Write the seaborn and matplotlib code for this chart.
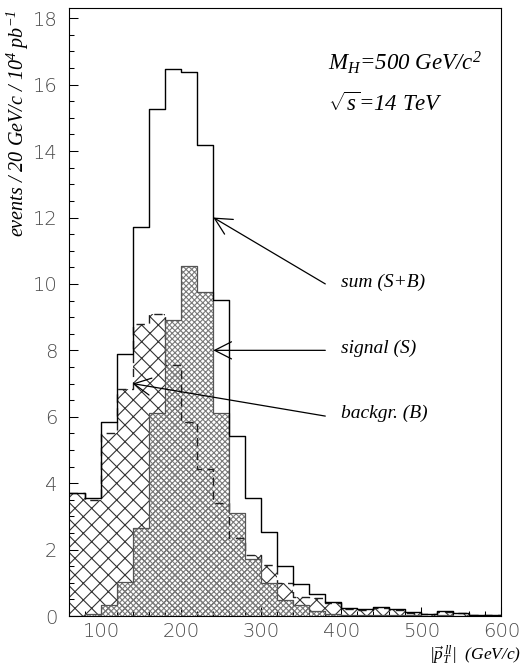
import matplotlib
matplotlib.use("Agg")
import numpy as np
import pandas as pd
import seaborn as sns
import matplotlib.pyplot as plt
from matplotlib.ticker import MultipleLocator

# ---------------- data ----------------
bin_edges = [60, 80, 100, 120, 140, 160, 180, 200, 220, 240, 260, 280, 300,
             320, 340, 360, 380, 400, 420, 440, 460, 480, 500, 520, 540, 560,
             580, 600]
sum_sb = [3.69, 3.54, 5.83, 7.89, 11.72, 15.26, 16.47, 16.39, 14.18, 9.53,
          5.43, 3.54, 2.54, 1.51, 0.95, 0.66, 0.43, 0.25, 0.20, 0.28, 0.20,
          0.11, 0.05, 0.15, 0.10, 0.03, 0.03]
signal_s = [0.00, 0.05, 0.33, 1.03, 2.64, 6.12, 8.91, 10.54, 9.76, 6.10,
            3.09, 1.72, 0.98, 0.48, 0.33, 0.15, 0.05, 0.03, 0.02, 0.03, 0.02,
            0.02, 0.00, 0.03, 0.01, 0.01, 0.01]
backgr_b = [3.69, 3.50, 5.50, 6.85, 8.79, 9.10, 7.56, 5.84, 4.42, 3.40,
            2.34, 1.84, 1.53, 0.98, 0.58, 0.55, 0.40, 0.22, 0.18, 0.25, 0.18,
            0.09, 0.05, 0.12, 0.09, 0.02, 0.02]
x_ticks = [100, 200, 300, 400, 500, 600]
y_ticks = [0, 2, 4, 6, 8, 10, 12, 14, 16, 18]

# ---------------- style ----------------
sns.set_theme(style="white")
plt.rcParams["font.family"] = ["DejaVu Sans"]
plt.rcParams["font.weight"] = "light"
plt.rcParams["mathtext.fontset"] = "custom"
plt.rcParams["mathtext.rm"] = "Liberation Serif:italic"
plt.rcParams["mathtext.it"] = "Liberation Serif:italic"
plt.rcParams["mathtext.bf"] = "Liberation Serif:italic:bold"
plt.rcParams["mathtext.sf"] = "Liberation Serif:italic"
plt.rcParams["hatch.linewidth"] = 0.8

n = len(sum_sb)
centers = [(a + b) / 2 for a, b in zip(bin_edges[:-1], bin_edges[1:])]
df = pd.DataFrame({
    "pt": centers * 3,
    "w": sum_sb + signal_s + backgr_b,
    "sample": ["sum"] * n + ["signal"] * n + ["backgr"] * n,
})

fig = plt.figure(figsize=(5.28, 6.67), dpi=100)
ax = fig.add_axes([69.3 / 528, 51 / 667, 432 / 528, 607.7 / 667])


def hist(sample, **kw):
    sns.histplot(data=df[df["sample"] == sample], x="pt", weights="w",
                 bins=bin_edges, element="step", ax=ax, legend=False, **kw)


# hatched fills
hist("backgr", fill=True, color="#333333", facecolor="none",
     edgecolor="#333333", linewidth=0, hatch="xx")
hist("signal", fill=True, color="#7a7a7a", facecolor="none",
     edgecolor="#7a7a7a", linewidth=0, hatch="xxxxxx")
# outlines
hist("backgr", fill=False, color="#202020", linewidth=1.0,
     linestyle=(0, (6, 4)))
hist("signal", fill=False, color="#555555", linewidth=0.9)
hist("sum", fill=False, color="black", linewidth=1.0)

ax.set_xlabel("")
ax.set_ylabel("")
ax.set_xlim(bin_edges[0], bin_edges[-1])
ax.set_ylim(0, 18.3)
ax.set_xticks(x_ticks)
ax.set_yticks(y_ticks)
ax.xaxis.set_minor_locator(MultipleLocator(20))
ax.yaxis.set_minor_locator(MultipleLocator(0.5))
ax.tick_params(which="both", direction="in", bottom=True, left=True,
               top=False, right=False, color="black", width=0.75,
               labelsize=14, labelcolor="#4a4a4a")
ax.tick_params(which="major", length=6.5)
ax.tick_params(which="minor", length=3.3)
ax.tick_params(axis="x", pad=4)
ax.tick_params(axis="y", pad=8.5)
for sp in ax.spines.values():
    sp.set_color("black")
    sp.set_linewidth(0.8)
    sp.set_visible(True)

serif = dict(family="Liberation Serif", style="italic", weight="normal",
             color="black")

# arrows and labels
arrow_kw = dict(arrowstyle="->,head_length=0.55,head_width=0.28",
                color="black", lw=0.9, shrinkA=0, shrinkB=0,
                mutation_scale=22)
ax.annotate("", xy=(240, 12.0), xytext=(380, 10.0), arrowprops=arrow_kw)
ax.annotate("", xy=(240, 8.0), xytext=(380, 8.0), arrowprops=arrow_kw)
ax.annotate("", xy=(139, 7.0), xytext=(380, 6.02), arrowprops=arrow_kw)
ax.text(400, 10.05, "sum (S+B)", size=14, va="center", ha="left", **serif)
ax.text(400, 8.07, "signal (S)", size=14, va="center", ha="left", **serif)
ax.text(400, 6.1, "backgr. (B)", size=14, va="center", ha="left", **serif)

ax.text(383, 16.65, r"$M_H$=500 GeV/c$^2$", size=16.5, va="center",
        ha="left", **serif)
ax.text(383, 15.42, r"$\sqrt{s}$=14 TeV", size=16.5, va="center",
        ha="left", **serif)

fig.text(18 / 528, 1 - 10 / 667, r"events / 20 GeV/c / 10$^4$ pb$^{-1}$",
         rotation=90, rotation_mode="anchor", ha="right", va="center",
         size=14.5, **serif)
fig.text(521 / 528, 1 - 655 / 667, r"$|\vec{p}_T^{\,ll}|$  (GeV/c)",
         ha="right", va="center", size=12.5, **serif)

fig.savefig("out.png", dpi=100)
